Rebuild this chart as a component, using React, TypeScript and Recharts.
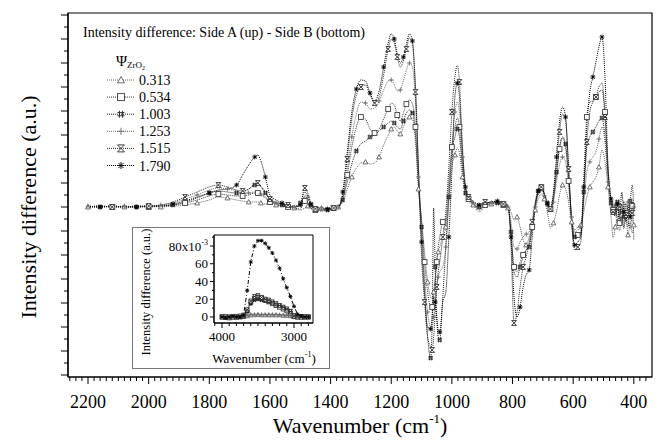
import React from "react";
import { LineChart, Line, XAxis, YAxis, ReferenceArea } from "recharts";

// main spectrum: wavenumber (cm-1) and intensity difference (a.u.)
const waveNumbers = [
  2200, 2160, 2120, 2080, 2040, 2000, 1960, 1920, 1880, 1840, 1800,
  1770, 1740, 1710, 1690, 1670, 1650, 1640, 1630, 1615, 1600, 1580, 1560, 1540, 1520,
  1500, 1485, 1475, 1465, 1450, 1430, 1410, 1390, 1375,
  1360, 1345, 1330, 1315, 1300,
  1285, 1270, 1255, 1240, 1225, 1210, 1200, 1190, 1180, 1170, 1160, 1150, 1140, 1130, 1120, 1110,
  1100, 1090, 1080, 1070, 1065, 1060, 1055, 1050, 1045, 1040, 1030, 1020, 1010, 1000,
  990, 982, 975, 965, 955, 945, 930, 910, 890, 870, 850, 830, 815,
  805, 795, 785, 775, 765, 755, 745, 735, 725, 715, 705, 695,
  685, 675, 665, 655, 645, 635, 625, 615, 605, 595, 585,
  575, 565, 555, 545, 535, 525, 515, 505, 495,
  485, 475, 468, 461, 454, 447, 440, 433, 426, 419, 412, 405, 400,
];

const s313 = [
  0, 0, 0.1, 0, 0, 0.1, 0, 0.1, 0.2, 0.4, 0.7,
  1.0, 0.9, 0.7, 0.6, 0.5, 0.5, 0.5, 0.4, 0.3, 0.3, 0.2, 0.1, 0.0, -0.1,
  -0.3, -0.1, 0.1, -0.2, -0.2, -0.1, -0.1, 0.0, 0.0,
  0.5, 1.8, 3.0, 3.9, 4.4,
  4.5, 4.3, 4.4, 5.0, 6.2, 7.2, 7.8, 8.0, 7.6, 7.3, 8.0, 8.7, 9.0, 8.8, 6.5, 1.8,
  -1.2, -4.5, -7.5, -9.0, -9.2, -8.5, -7.0, -5.5, -4.5, -4.0, -3.0, -2.0, 1.0, 4.0,
  5.2, 5.9, 5.4, 3.0, 1.2, 0.6, 0.2, -0.5, 0.1, 0.3, 0.3, 0.1, -0.1,
  -0.5, -1.3, -1.0, -2.0, -3.3, -3.8, -3.0, -1.8, -0.3, 0.8, 1.3, 0.8,
  -0.5, -2.1, -1.6, -0.5, 1.2, 2.2, 1.8, 0.5, -1.5, -2.3, -2.0,
  -1.8, -0.5, 1.0, 2.0, 2.5, 3.0, 4.0, 5.7, 4.5,
  2.0, -1.0, -3.1, -2.0, -1.2, -2.4, -0.8, -2.2, -1.0, -2.8, -1.5, -2.6, -1.8,
];

const s534 = [
  0, 0.1, 0, 0, 0.1, 0, 0.1, 0.2, 0.4, 0.7, 1.1,
  1.3, 1.2, 1.1, 1.1, 1.2, 1.4, 1.4, 1.2, 0.9, 0.5, 0.3, 0.1, 0.0, -0.1,
  -0.2, 0.6, 0.5, -0.1, -0.3, -0.2, -0.2, -0.1, 0.0,
  0.9, 3.2, 6.0, 8.0, 9.0,
  8.8, 7.8, 7.4, 7.8, 8.8, 9.8, 10.4, 10.2, 9.2, 8.6, 9.4, 10.3, 10.7, 10.3, 8.0, 2.5,
  -1.5, -5.5, -8.5, -10.0, -10.0, -9.0, -7.5, -5.5, -4.0, -3.0, -1.5, -1.3, 2.5, 6.0,
  8.0, 8.9, 8.0, 4.2, 1.6, 0.8, 0.4, -0.3, 0.2, 0.4, 0.4, 0.2, 0.0,
  -2.5, -6.0, -6.5, -5.5, -4.8, -4.3, -3.8, -2.0, 0.0, 1.5, 1.9, 1.3,
  0.3, -0.2, 0.8, 3.2, 5.8, 6.9, 6.0, 2.6, -1.2, -3.1, -2.8,
  -2.5, 3.0, 9.0, 10.5, 10.6, 11.0, 12.0, 12.4, 9.5,
  4.0, 0.6, -0.3, -1.0, -0.2, -1.6, -0.4, -2.0, -0.6, -1.3, -2.2, 0.1, -3.3,
];

const s1003 = [
  0, 0, 0.1, 0, 0, 0.1, 0.1, 0.2, 0.5, 0.9, 1.4,
  1.6, 1.5, 1.4, 1.5, 1.8, 2.2, 2.3, 2.0, 1.4, 0.7, 0.4, 0.2, 0.1, 0.0,
  0.4, 1.5, 1.1, 0.2, -0.3, -0.4, -0.3, -0.2, 0.0,
  0.7, 2.5, 4.3, 5.6, 6.3,
  6.6, 7.0, 7.2, 7.6, 8.0, 8.4, 8.6, 8.4, 8.0, 7.8, 8.6, 9.4, 9.7, 9.4, 7.2, 2.0,
  -2.0, -8.0, -13.0, -15.1, -11.5, -0.1, -6.0, -11.0, -13.0, -13.3, -9.0, -4.0, 1.0, 5.5,
  7.0, 7.8, 7.0, 3.8, 1.4, 0.8, 0.3, 0.0, 0.3, 0.5, 0.4, 0.3, 0.1,
  -2.5, -6.5, -7.0, -6.0, -5.0, -4.3, -4.0, -2.0, 0.3, 1.6, 2.0, 1.4,
  0.4, 0.0, 1.0, 3.5, 6.0, 7.0, 6.3, 3.0, -1.0, -3.0, -3.0,
  -2.8, 1.5, 6.0, 7.0, 7.5, 8.0, 8.6, 8.9, 7.0,
  3.0, 0.4, 0.0, -0.6, 0.5, -0.8, 0.2, -1.0, 0.4, -0.5, 0.6, 2.2, -0.5,
];

const s1253 = [
  0.1, 0, 0, 0.1, 0, 0, 0.2, 0.4, 0.8, 1.2, 1.7,
  1.9, 1.8, 1.6, 1.4, 1.4, 1.5, 1.5, 1.3, 1.0, 0.6, 0.4, 0.3, 0.1, 0.0,
  0.1, 1.2, 1.0, 0.3, 0.0, -0.2, -0.3, -0.2, 0.0,
  1.0, 3.8, 7.0, 9.3, 10.5,
  10.4, 9.8, 9.9, 10.6, 11.7, 12.6, 12.7, 12.2, 11.6, 11.7, 12.6, 13.7, 14.4, 14.0, 10.5, 3.0,
  -2.0, -7.0, -10.5, -12.0, -12.0, -11.0, -9.5, -8.0, -7.0, -6.5, -6.0, -4.0, 0.5, 6.0,
  9.5, 10.5, 9.5, 5.0, 1.8, 0.9, 0.4, -0.2, 0.3, 0.4, 0.5, 0.3, 0.0,
  -1.5, -4.0, -4.2, -3.5, -3.0, -2.7, -2.5, -1.5, 0.0, 1.2, 1.6, 1.1,
  0.2, -0.4, 0.5, 2.5, 4.2, 5.0, 4.5, 2.0, -1.0, -2.5, -2.3,
  -2.0, 0.5, 3.5, 4.5, 5.0, 5.5, 6.8, 8.0, 6.5,
  2.5, 0.3, -0.4, 0.2, -1.0, -0.3, -1.4, 0.0, -1.2, 0.5, -0.7, -1.5, 0.0,
];

const s1515 = [
  0, 0.1, 0, 0, 0.1, 0.1, 0.2, 0.5, 1.0, 1.5, 2.0,
  2.2, 2.0, 1.7, 1.6, 1.8, 2.3, 2.4, 2.1, 1.5, 0.8, 0.5, 0.3, 0.2, 0.1,
  0.3, 1.9, 1.4, 0.4, -0.2, -0.3, -0.2, -0.1, 0.0,
  1.2, 4.8, 8.8, 11.2, 12.0,
  12.2, 11.2, 10.4, 11.0, 13.2, 15.8, 16.8, 16.4, 15.0, 14.0, 14.6, 15.8, 16.9, 16.3, 11.5, 3.5,
  -5.0, -9.5, -13.0, -14.0, -14.3, -13.0, -10.5, -8.0, -6.5, -5.5, -3.0, -0.5, 4.0, 9.5,
  13.0, 14.2, 12.5, 6.0, 2.0, 1.0, 0.6, 0.3, 0.5, 0.4, 0.5, 0.3, 0.1,
  -4.0, -11.6, -10.5, -8.0, -6.0, -5.0, -3.5, -1.5, 0.5, 1.8, 2.0, 1.2,
  0.5, -0.2, 1.2, 4.3, 7.5, 9.3, 8.6, 3.8, -1.6, -4.3, -4.0,
  -3.5, 1.0, 6.5, 9.5, 10.5, 11.0, 11.5, 11.7, 9.0,
  3.5, 0.5, -0.5, 0.4, -1.5, 0.0, -1.8, 0.6, -0.8, -2.0, 0.3, -0.6, -0.2,
];

const s1790 = [
  0.1, 0, 0.1, 0, 0, 0.1, 0.1, 0.3, 0.6, 1.0, 1.4,
  1.7, 1.8, 2.2, 3.2, 4.2, 5.0, 5.2, 4.6, 3.0, 1.2, 0.7, 0.4, 0.1, 0.0,
  0.2, 1.0, 0.8, 0.3, 0.0, -0.1, -0.2, -0.1, 0.0,
  1.5, 5.5, 9.5, 11.8, 12.7,
  12.6, 11.4, 10.6, 11.6, 14.0, 16.4, 17.3, 16.8, 15.3, 14.4, 15.0, 16.3, 17.3, 16.6, 12.0, 4.0,
  -3.5, -8.8, -12.0, -12.2, -11.0, -9.0, -9.5, -11.0, -12.3, -12.5, -9.5, -8.5, -3.0, 3.5,
  11.0, 12.4, 11.0, 5.5, 2.0, 1.0, 0.5, 0.2, 0.4, 0.5, 0.6, 0.4, 0.2,
  -3.0, -9.0, -11.0, -10.0, -8.0, -6.8, -6.3, -3.0, 0.0, 1.6, 2.0, 1.3,
  0.3, -0.3, 1.5, 5.0, 8.5, 10.0, 9.0, 4.0, -1.5, -3.8, -3.5,
  -3.0, 2.0, 8.0, 11.5, 13.0, 14.5, 16.0, 17.0, 13.0,
  4.0, 0.8, 0.0, -0.8, 0.3, -1.2, 1.5, -0.5, -1.5, 0.2, -1.0, 0.5, 0.2,
];

// inset: OH stretching region, values in 10^-3
const insetWave = [
  4000, 3950, 3900, 3850, 3800, 3750, 3700, 3650, 3600, 3550, 3500, 3450, 3400,
  3350, 3300, 3250, 3200, 3150, 3100, 3050, 3000, 2950, 2900, 2850, 2800,
];
const in313 = [0, 0, 0, 0, 0, 0, 0, 1, 2, 2, 2.5, 2, 2, 2, 2, 2, 2, 1.5, 1.5, 1, 0, 0, 0, 0, 0];
const in534 = [0, 0, -1, 0, 0, 0, 1, 7, 17, 21, 22, 21, 19, 17, 15, 13, 11, 9, 7, 4, 1, 0, 0, 0, 0];
const in1003 = [0, -1, 0, 0, 0, 0, 1, 6, 15, 19, 20, 19, 18, 17, 16, 14, 13, 11, 9, 7, 2, 0, 1, 0, 0];
const in1253 = [0, 0, 0, 0, -1, 0, 1, 2, 3, 3, 3, 3, 3, 3, 3, 3, 2.5, 2.5, 2, 2, 1, 0, 0, 0, 0];
const in1515 = [0, 0, 0, 0, 0, 1, 2, 8, 18, 23, 24, 22, 20, 19, 17, 15, 13, 11, 9, 6, 1, 0, 0, 0, 0];
const in1790 = [0, -1, 0, 1, 0, 0, 2, 30, 62, 80, 86, 86, 83, 78, 72, 64, 55, 43, 33, 23, 12, 3, 1, 0, 0];

const legendLabels = ["0.313", "0.534", "1.003", "1.253", "1.515", "1.790"];
const xTickLabels = [2200, 2000, 1800, 1600, 1400, 1200, 1000, 800, 600, 400];
const insetTickLabels = [4000, 3000];
const insetYLabels = [0, 20, 40, 60, 80];

const SERIF = "'Liberation Serif', 'Times New Roman', serif";

const seriesDefs = [
  { key: "s313", shape: "tri", color: "#5e5e5e" },
  { key: "s534", shape: "sq", color: "#3c3c3c" },
  { key: "s1003", shape: "hash", color: "#1e1e1e" },
  { key: "s1253", shape: "plus", color: "#6a6a6a" },
  { key: "s1515", shape: "hour", color: "#2a2a2a" },
  { key: "s1790", shape: "ast", color: "#000000" },
];

const mainData = waveNumbers.map((w, i) => ({
  w,
  s313: s313[i],
  s534: s534[i],
  s1003: s1003[i],
  s1253: s1253[i],
  s1515: s1515[i],
  s1790: s1790[i],
}));

const insetData = insetWave.map((w, i) => ({
  w,
  s313: in313[i],
  s534: in534[i],
  s1003: in1003[i],
  s1253: in1253[i],
  s1515: in1515[i],
  s1790: in1790[i],
}));

function marker(shape: string, x: number, y: number, c: string, r: number) {
  const sw = 0.9;
  switch (shape) {
    case "tri":
      return <polygon points={`${x},${y - r} ${x + r},${y + r * 0.8} ${x - r},${y + r * 0.8}`} fill="#fff" stroke={c} strokeWidth={sw} />;
    case "sq":
      return <rect x={x - r} y={y - r} width={2 * r} height={2 * r} fill="#fff" stroke={c} strokeWidth={sw} />;
    case "hash": {
      const k = r * 0.45;
      return (
        <path
          d={`M${x - r},${y - k}H${x + r}M${x - r},${y + k}H${x + r}M${x - k},${y - r}V${y + r}M${x + k},${y - r}V${y + r}`}
          stroke={c}
          strokeWidth={sw}
          fill="none"
        />
      );
    }
    case "plus":
      return <path d={`M${x - r},${y}H${x + r}M${x},${y - r}V${y + r}`} stroke={c} strokeWidth={sw} fill="none" />;
    case "hour":
      return <path d={`M${x - r},${y - r}H${x + r}L${x - r},${y + r}H${x + r}Z`} stroke={c} strokeWidth={sw} fill="#fff" />;
    default: {
      const d = r * 0.75;
      return (
        <path
          d={`M${x},${y - r}V${y + r}M${x - d},${y - d}L${x + d},${y + d}M${x + d},${y - d}L${x - d},${y + d}M${x - r},${y}H${x + r}`}
          stroke={c}
          strokeWidth={sw}
          fill="none"
        />
      );
    }
  }
}

function makeDot(shape: string, color: string, every: number, offset: number, r: number) {
  return (p: any) => {
    const { cx, cy, index } = p;
    const k = `${shape}-${index}`;
    if (cx == null || cy == null || (index + offset) % every !== 0) return <g key={k} />;
    return <g key={k}>{marker(shape, cx, cy, color, r)}</g>;
  };
}

const xTicks: number[] = [];
for (let v = 360; v <= 2260; v += 20) xTicks.push(v);
const yTicks: number[] = [];
for (let k = -14; k <= 16; k++) yTicks.push(Math.round(k * 12) / 10);

function XTick(props: any) {
  const { x, y, payload } = props;
  const v = payload.value;
  const major = xTickLabels.includes(v);
  return (
    <g>
      <line x1={x} y1={y} x2={x} y2={y + (major ? 7 : 4)} stroke="#000" strokeWidth={1} />
      {major && (
        <text x={x} y={y + 31} textAnchor="middle" fontSize={18} fontFamily={SERIF} fill="#000">
          {v}
        </text>
      )}
    </g>
  );
}

function YTick(props: any) {
  const { x, y, index } = props;
  const major = index % 2 === 0;
  return <line x1={x} y1={y} x2={x - (major ? 7 : 4)} y2={y} stroke="#000" strokeWidth={1} />;
}

function InsetXTick(props: any) {
  const { x, y, payload } = props;
  const v = payload.value;
  const major = insetTickLabels.includes(v);
  return (
    <g>
      <line x1={x} y1={y} x2={x} y2={y + (major ? 5 : 3)} stroke="#000" strokeWidth={1} />
      {major && (
        <text x={x} y={y + 18} textAnchor="middle" fontSize={13} fontFamily={SERIF} fill="#000">
          {v}
        </text>
      )}
    </g>
  );
}

function InsetYTick(props: any) {
  const { x, y, payload } = props;
  const v = payload.value;
  const major = insetYLabels.includes(v);
  return (
    <g>
      <line x1={x} y1={y} x2={x - (major ? 4 : 2)} y2={y} stroke="#000" strokeWidth={1} />
      {major && (
        <text x={x - 6} y={y + 4.5} textAnchor="end" fontSize={13} fontFamily={SERIF} fill="#000">
          {v === 80 ? (
            <>
              80x10<tspan fontSize={8} dy={-6}>-3</tspan>
            </>
          ) : (
            v
          )}
        </text>
      )}
    </g>
  );
}

function Annotations() {
  return (
    <svg width={658} height={440} style={{ position: "absolute", left: 0, top: 0, pointerEvents: "none" }}>
      <text x={83} y={37} fontSize={14} fontFamily={SERIF} fill="#000">
        Intensity difference: Side A (up) - Side B (bottom)
      </text>
      <text x={116} y={66} fontSize={15} fontFamily={SERIF} fill="#000">
        Ψ
        <tspan fontSize={9} dy={2}>ZrO</tspan>
        <tspan fontSize={6} dy={2}>2</tspan>
      </text>
      {seriesDefs.map((s, i) => {
        const cy = 80 + i * 17.1;
        return (
          <g key={s.key}>
            <line x1={107} y1={cy} x2={135} y2={cy} stroke={s.color} strokeWidth={1} strokeDasharray="1 1" />
            {marker(s.shape, 121, cy, s.color, 3.5)}
            <text x={139} y={cy + 5} fontSize={14} fontFamily={SERIF} fill="#000">
              {legendLabels[i]}
            </text>
          </g>
        );
      })}
      <text
        x={0}
        y={0}
        transform="translate(36,207) rotate(-90)"
        textAnchor="middle"
        fontSize={22}
        fontFamily={SERIF}
        fill="#000"
      >
        Intensity difference (a.u.)
      </text>
      <text x={360} y={433} textAnchor="middle" fontSize={22} fontFamily={SERIF} fill="#000">
        Wavenumber (cm<tspan fontSize={13} dy={-10}>-1</tspan>
        <tspan dy={10}>)</tspan>
      </text>
    </svg>
  );
}

function Inset() {
  return (
    <div
      style={{
        position: "absolute",
        left: 132,
        top: 227,
        width: 196,
        height: 140,
        border: "1px solid #777",
        background: "#fff",
      }}
    >
      <LineChart width={196} height={140} data={insetData} margin={{ top: 7, right: 16, left: 0, bottom: 0 }}>
        <XAxis
          dataKey="w"
          type="number"
          reversed
          domain={[2736, 4111]}
          ticks={[2800, 2900, 3000, 3100, 3200, 3300, 3400, 3500, 3600, 3700, 3800, 3900, 4000, 4100]}
          interval={0}
          tick={(p: any) => <InsetXTick {...p} />}
          tickLine={false}
          tickSize={0}
          tickMargin={0}
          height={45}
          axisLine={{ stroke: "#000" }}
        />
        <YAxis
          type="number"
          domain={[-6.8, 92.4]}
          ticks={[0, 10, 20, 30, 40, 50, 60, 70, 80, 90]}
          interval={0}
          tick={(p: any) => <InsetYTick {...p} />}
          tickLine={false}
          tickSize={0}
          tickMargin={0}
          width={81}
          axisLine={{ stroke: "#000" }}
        />
        <ReferenceArea x1={2736} x2={4111} y1={-6.8} y2={92.4} stroke="#000" strokeWidth={1} fill="none" />
        {seriesDefs.map((s) => (
          <Line
            key={s.key}
            dataKey={s.key}
            type="linear"
            stroke={s.color}
            strokeWidth={1}
            strokeDasharray={s.key === "s1790" ? "4 2 1 2" : "1 1"}
            dot={makeDot(s.shape, s.color, 1, 0, 2)}
            activeDot={false}
            isAnimationActive={false}
          />
        ))}
      </LineChart>
      <svg width={196} height={140} style={{ position: "absolute", left: 0, top: 0, pointerEvents: "none" }}>
        <text
          x={0}
          y={0}
          transform="translate(17,64) rotate(-90)"
          textAnchor="middle"
          fontSize={12.5}
          fontFamily={SERIF}
          fill="#000"
        >
          Intensity difference (a.u.)
        </text>
        <text x={131} y={135} textAnchor="middle" fontSize={13} fontFamily={SERIF} fill="#000">
          Wavenumber (cm<tspan fontSize={8} dy={-6}>-1</tspan>
          <tspan dy={6}>)</tspan>
        </text>
      </svg>
    </div>
  );
}

export default function App() {
  return (
    <div style={{ position: "relative", width: 658, height: 440, background: "#fff" }}>
      <style>{"body{margin:0}"}</style>
      <LineChart width={658} height={440} data={mainData} margin={{ top: 13, right: 6, left: 0, bottom: 0 }}>
        <XAxis
          dataKey="w"
          type="number"
          reversed
          domain={[340, 2266]}
          ticks={xTicks}
          interval={0}
          tick={(p: any) => <XTick {...p} />}
          tickLine={false}
          tickSize={0}
          tickMargin={0}
          height={63}
          axisLine={{ stroke: "#000", strokeWidth: 1.2 }}
        />
        <YAxis
          type="number"
          domain={[-17, 19.4]}
          ticks={yTicks}
          interval={0}
          tick={(p: any) => <YTick {...p} />}
          tickLine={false}
          tickSize={0}
          tickMargin={0}
          width={68}
          axisLine={{ stroke: "#000", strokeWidth: 1.2 }}
        />
        <ReferenceArea x1={340} x2={2266} y1={-17} y2={19.4} stroke="#000" strokeWidth={1.2} fill="none" />
        {seriesDefs.map((s, i) => (
          <Line
            key={s.key}
            dataKey={s.key}
            type="monotone"
            stroke={s.color}
            strokeWidth={1}
            strokeDasharray="1 1"
            dot={makeDot(s.shape, s.color, 3, i % 3, 2.4)}
            activeDot={false}
            isAnimationActive={false}
          />
        ))}
      </LineChart>
      <Annotations />
      <Inset />
    </div>
  );
}
